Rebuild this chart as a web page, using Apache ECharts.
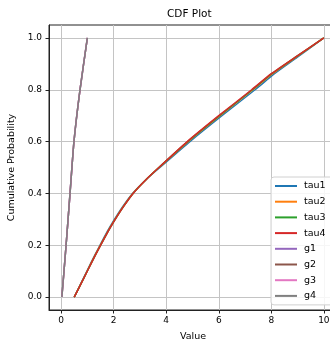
<!DOCTYPE html>
<html>
<head>
<meta charset="utf-8">
<script src="https://cdn.jsdelivr.net/npm/echarts@6/dist/echarts.min.js"></script>
<style>
  html, body { margin: 0; padding: 0; background: #fff; }
  #chart { width: 330px; height: 342px; }
</style>
</head>
<body>
<div id="chart"></div>
<script>
// cumulative probability levels
const tauProb = [0, 0.07, 0.135, 0.19, 0.255, 0.295, 0.35, 0.4, 0.452, 0.5, 0.6, 0.7, 0.8, 0.862, 0.925, 1.0];
// value at each level, per tau series
const tau1Val = [0.5, 0.84, 1.15, 1.43, 1.77, 2.0, 2.35, 2.72, 3.22, 3.76, 4.9, 6.12, 7.38, 8.12, 8.98, 10.0];
const tau2Val = [0.5, 0.85, 1.16, 1.44, 1.79, 2.02, 2.37, 2.73, 3.22, 3.73, 4.84, 6.05, 7.3, 8.05, 8.93, 10.0];
const tau3Val = [0.5, 0.85, 1.17, 1.45, 1.8, 2.03, 2.38, 2.74, 3.22, 3.72, 4.82, 6.03, 7.28, 8.02, 8.91, 10.0];
const tau4Val = [0.5, 0.85, 1.17, 1.45, 1.8, 2.03, 2.38, 2.74, 3.22, 3.72, 4.8, 6.0, 7.25, 8.0, 8.9, 10.0];

const gProb = [0, 0.2, 0.4, 0.6, 0.8, 1.0];
const g1Val = [0.03, 0.19, 0.34, 0.49, 0.72, 1.0];
const g2Val = [0.03, 0.19, 0.34, 0.49, 0.72, 1.0];
const g3Val = [0.03, 0.19, 0.34, 0.49, 0.72, 1.0];
const g4Val = [0.03, 0.19, 0.34, 0.49, 0.72, 1.0];

const xTicks = [0, 2, 4, 6, 8, 10];
const yTicks = [0, 0.2, 0.4, 0.6, 0.8, 1.0];

const names = ['tau1', 'tau2', 'tau3', 'tau4', 'g1', 'g2', 'g3', 'g4'];
const colors = ['#1f77b4', '#ff7f0e', '#2ca02c', '#d62728', '#9467bd', '#8c564b', '#e377c2', '#7f7f7f'];
const vals = [tau1Val, tau2Val, tau3Val, tau4Val, g1Val, g2Val, g3Val, g4Val];
const probs = [tauProb, tauProb, tauProb, tauProb, gProb, gProb, gProb, gProb];

const font = 'DejaVu Sans';
const chart = echarts.init(document.getElementById('chart'));

const option = {
  animation: false,
  color: colors,
  title: {
    text: 'CDF Plot',
    left: 167,
    top: 9,
    padding: 0,
    textStyle: { fontFamily: font, fontSize: 10.5, fontWeight: 'normal', color: '#000' }
  },
  grid: {
    left: 49, top: 25, width: 288, height: 285,
    outerBoundsMode: 'none',
    containLabel: false,
    show: true, borderColor: '#222', borderWidth: 1, backgroundColor: 'transparent'
  },
  legend: {
    orient: 'vertical',
    left: 271, top: 177,
    padding: [4, 30, 4, 3],
    itemWidth: 22, itemHeight: 10, itemGap: 5.7,
    // only the line sample, no dot
    itemStyle: { opacity: 0 },
    lineStyle: { width: 2 },
    backgroundColor: 'rgba(255,255,255,0.85)',
    borderColor: '#d0d0d0', borderWidth: 1, borderRadius: 3,
    textStyle: { fontFamily: font, fontSize: 9.5, color: '#000', padding: [0, 0, 0, 2] },
    data: names
  },
  xAxis: {
    type: 'value', min: -0.46, max: 10.5,
    name: 'Value', nameLocation: 'middle', nameGap: 22,
    nameTextStyle: { fontFamily: font, fontSize: 9.5, color: '#000' },
    axisLine: { show: true, onZero: false, lineStyle: { color: '#222', width: 1 } },
    axisTick: { show: true, length: 3.5, lineStyle: { color: '#222' }, customValues: xTicks },
    axisLabel: { fontFamily: font, fontSize: 9, color: '#000', margin: 6, customValues: xTicks },
    splitLine: { show: true, lineStyle: { color: '#c4c4c4', width: 1 } }
  },
  yAxis: {
    type: 'value', min: -0.05, max: 1.05,
    name: 'Cumulative Probability', nameLocation: 'middle', nameGap: 25, nameRotate: 90,
    nameTextStyle: { fontFamily: font, fontSize: 9.5, color: '#000' },
    axisLine: { show: true, onZero: false, lineStyle: { color: '#222', width: 1 } },
    axisTick: { show: true, length: 3.5, lineStyle: { color: '#222' }, customValues: yTicks },
    axisLabel: {
      fontFamily: font, fontSize: 9, color: '#000', margin: 7, customValues: yTicks,
      formatter: v => v.toFixed(1)
    },
    splitLine: { show: true, lineStyle: { color: '#c4c4c4', width: 1 } }
  },
  series: names.map((n, k) => ({
    name: n,
    type: 'line',
    symbol: 'none',
    smooth: 0.2,
    lineStyle: { width: 1.5, color: colors[k] },
    itemStyle: { color: colors[k] },
    emphasis: { disabled: true },
    data: vals[k].map((x, i) => [x, probs[k][i]])
  }))
};

chart.setOption(option);
</script>
</body>
</html>
